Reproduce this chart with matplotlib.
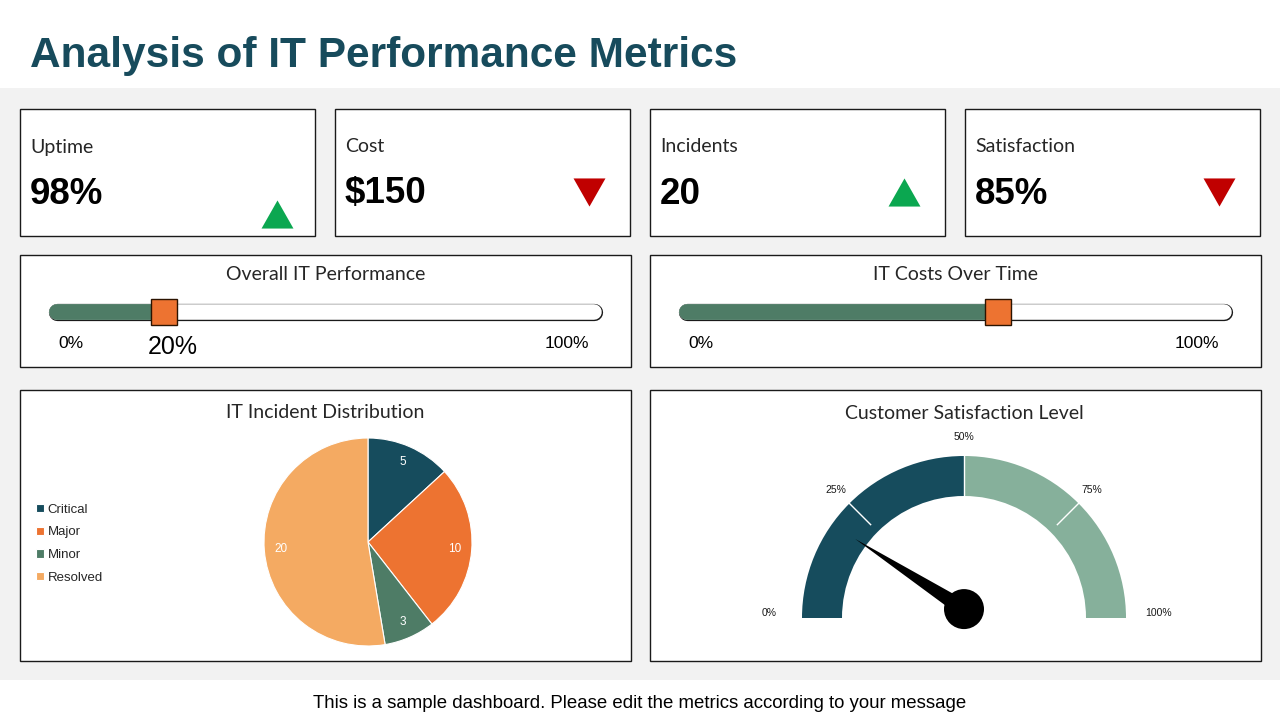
import numpy as np
import matplotlib
matplotlib.use("Agg")
import matplotlib.pyplot as plt
from matplotlib.patches import Rectangle, Wedge, Circle, Polygon

# ---- data ----
kpi_labels = ["Uptime", "Cost", "Incidents", "Satisfaction"]
kpi_values = ["98%", "$150", "20", "85%"]
kpi_trend = ["up", "down", "up", "down"]

progress_titles = ["Overall IT Performance", "IT Costs Over Time"]
progress_values = [20, 58]
progress_show_value = [True, False]

incident_labels = ["Critical", "Major", "Minor", "Resolved"]
incident_counts = [5, 10, 3, 20]

gauge_bands = [0, 50, 100]
gauge_ticks = [0, 25, 50, 75, 100]
gauge_needle = 20

# ---- styling ----
W, H = 1280, 720
TEAL = "#164c5d"
ORANGE = "#ed7331"
GREEN = "#4e7c66"
LIGHT_ORANGE = "#f4aa62"
SAGE = "#86b09b"
UP = "#0ba750"
DOWN = "#c00000"
EDGE = "#1a1a1a"
TXT = "#262626"
ARIAL = ["Liberation Sans", "DejaVu Sans"]
GOTHIC = ["Lato", "DejaVu Sans"]

fig = plt.figure(figsize=(W / 100, H / 100), dpi=100)
fig.patch.set_facecolor("white")


def px(x0, y0, x1, y1):
    # pixel box -> figure fraction rect
    return [x0 / W, 1 - y1 / H, (x1 - x0) / W, (y1 - y0) / H]


bg = fig.add_axes([0, 0, 1, 1])
bg.set_xlim(0, W)
bg.set_ylim(H, 0)
bg.axis("off")
bg.add_patch(Rectangle((0, 88), W, 592, color="#f2f2f2", lw=0))

bg.text(30, 56, "Analysis of IT Performance Metrics", fontsize=30.5,
        fontweight="bold", color="#174b5c", va="center", ha="left", family=ARIAL)
bg.text(640, 703, "This is a sample dashboard. Please edit the metrics according to your message",
        fontsize=13.4, color="black", ha="center", va="center", family=ARIAL)


def box(x0, y0, x1, y1):
    bg.add_patch(Rectangle((x0, y0), x1 - x0, y1 - y0, facecolor="white",
                           edgecolor=EDGE, lw=1))


# ---- KPI cards ----
kpi_x = [20, 335, 650, 965]
for i, (lab, val, tr) in enumerate(zip(kpi_labels, kpi_values, kpi_trend)):
    x0 = kpi_x[i]
    box(x0, 109, x0 + 295, 236)
    bg.text(x0 + 10, 147, lab, fontsize=14, color=TXT,
            va="center", ha="left", family=GOTHIC)
    bg.text(x0 + 10, 194, val, fontsize=26.5, fontweight="bold", color="black",
            va="center", ha="left", family=ARIAL)
    if tr == "up":
        mk = [(-1, -0.88), (1, -0.88), (0, 0.88)]
        col = UP
    else:
        mk = [(-1, 0.88), (1, 0.88), (0, -0.88)]
        col = DOWN
    ty = 214 if i == 0 else 192
    tx = x0 + 257 if i == 0 else x0 + 254
    bg.plot([tx], [ty], marker=mk, ms=23, color=col, mec="none")

# ---- progress bars ----
prog_boxes = [(20, 255, 631, 367), (650, 255, 1261, 367)]
for (x0, y0, x1, y1), title, v, show in zip(prog_boxes, progress_titles,
                                           progress_values, progress_show_value):
    box(x0, y0, x1, y1)
    ax = fig.add_axes(px(x0, y0, x1, y1))
    ax.set_xlim(-6.9, 106.9)
    ax.set_ylim(112, 0)
    ax.axis("off")
    ax.text(50, 19.5, title, fontsize=14, color=TXT,
            ha="center", va="center", family=GOTHIC)
    by = 56.5
    ax.plot([0, 100], [by, by], color=EDGE, lw=12.4, solid_capstyle="round")
    ax.plot([0, 100], [by, by], color="white", lw=11.2, solid_capstyle="round")
    ax.plot([0, v], [by, by], color=GREEN, lw=11.4, solid_capstyle="round")
    ax.plot([v], [by], marker="s", ms=19, mfc=ORANGE, mec="#2b1300", mew=1)
    ax.text(2.6, 88, "0%", fontsize=12.5, ha="center", va="center", family=ARIAL)
    ax.text(95, 88, "100%", fontsize=12.5, ha="center", va="center", family=ARIAL)
    if show:
        ax.text(v + 1.5, 92.5, f"{v}%", fontsize=18, ha="center", va="center",
                family=ARIAL)

# ---- pie ----
box(20, 390, 631, 661)
bg.text(325, 412.5, "IT Incident Distribution", fontsize=14,
        color=TXT, ha="center", va="center", family=GOTHIC)
pax = fig.add_axes(px(264, 438, 472, 646))
total = sum(incident_counts)
wedges, _, autotexts = pax.pie(
    incident_counts, colors=[TEAL, ORANGE, GREEN, LIGHT_ORANGE], startangle=90,
    counterclock=False, radius=1, autopct=lambda p: f"{round(p * total / 100):d}",
    pctdistance=0.84, wedgeprops=dict(edgecolor="white", lw=0.8),
    textprops=dict(color="white", fontsize=8.5, family=ARIAL))
pax.set_xlim(-1, 1)
pax.set_ylim(-1, 1)
fig.legend(wedges, incident_labels, loc="upper left",
           bbox_to_anchor=(24 / W, 1 - 492 / H), frameon=False,
           handlelength=0.6, handleheight=0.6, handletextpad=0.3,
           labelspacing=0.8, prop=dict(family=ARIAL, size=9.5),
           labelcolor=TXT)

# ---- gauge ----
box(650, 390, 1261, 661)
gx0, gy0, gx1, gy1 = 650, 390, 1261, 661
cx, cy, R = 964, 618, 162.0
gax = fig.add_axes(px(gx0, gy0, gx1, gy1))
gax.set_xlim((gx0 - cx) / R, (gx1 - cx) / R)
gax.set_ylim((cy - gy1) / R, (cy - gy0) / R)
gax.axis("off")
gax.text(0.005, (cy - 413.5) / R, "Customer Satisfaction Level", fontsize=14,
         color=TXT, ha="center", va="center", family=GOTHIC)


def ang(p):
    return 180 - p * 180 / 100


ring_w = (162 - 122) / R
for (a, b), col in zip(zip(gauge_bands[:-1], gauge_bands[1:]), [TEAL, SAGE]):
    gax.add_patch(Wedge((0, 0), 1, ang(b), ang(a), width=ring_w, color=col, lw=0))
for t in gauge_ticks[1:-1]:
    th = np.radians(ang(t))
    r_in = 1 - ring_w if t == 50 else 1 - ring_w * 0.75
    gax.plot([r_in * np.cos(th), np.cos(th)], [r_in * np.sin(th), np.sin(th)],
             color="white", lw=1)
for t in gauge_ticks:
    th = np.radians(ang(t))
    r_l = 1.2 if t in (0, 100) else 1.12
    yoff = 0.03 if t in (0, 100) else 0
    gax.text(r_l * np.cos(th), r_l * np.sin(th) + yoff, f"{t}%", fontsize=7.5,
             ha="center", va="center", family=ARIAL, color="#1a1a1a")

# needle
hub = np.array([0, 0.055])
th = np.radians(ang(gauge_needle))
tip = np.array([0.83 * np.cos(th), 0.83 * np.sin(th)])
d = tip - hub
nrm = np.array([-d[1], d[0]]) / np.hypot(*d)
gax.add_patch(Polygon([tip, hub + nrm * 0.05, hub - nrm * 0.05], color="black", lw=0))
gax.add_patch(Circle(hub, 20 / R, color="black", lw=0))

fig.savefig("out.png", dpi=100, facecolor="white")
